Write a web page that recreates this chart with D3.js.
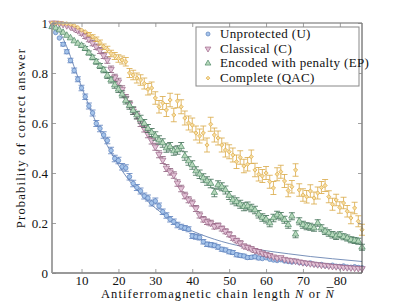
<!DOCTYPE html>
<html><head><meta charset="utf-8">
<script src="https://cdn.jsdelivr.net/npm/d3@7"></script>
<style>body{margin:0;background:#fff}svg{display:block}</style>
</head><body>
<svg id="c" width="399" height="306"></svg>
<script>
const N = d3.range(2, 87);
const unprotected = [
0.985,0.962,0.94,0.915,0.885,0.85,0.81,0.775,0.74,0.705,
0.668,0.64,0.598,0.578,0.552,0.53,0.49,0.458,0.45,0.425,
0.42,0.385,0.358,0.342,0.328,0.308,0.3,0.28,0.288,0.268,
0.245,0.23,0.215,0.205,0.192,0.185,0.18,0.175,0.148,0.145,
0.142,0.125,0.115,0.113,0.11,0.104,0.095,0.092,0.085,0.082,
0.073,0.07,0.068,0.062,0.063,0.065,0.06,0.058,0.061,0.055,
0.052,0.05,0.053,0.048,0.046,0.044,0.047,0.042,0.04,0.038,
0.04,0.035,0.033,0.034,0.03,0.029,0.031,0.027,0.026,0.028,
0.024,0.023,0.025,0.022,0.021];
const unprotectedErr = [
.004,.005,.006,.007,.008,.009,.01,.01,.011,.011,
.012,.012,.012,.013,.013,.013,.013,.013,.013,.013,
.013,.013,.013,.012,.012,.012,.012,.012,.012,.012,
.011,.011,.011,.011,.011,.01,.01,.01,.01,.01,
.01,.009,.009,.009,.009,.009,.008,.008,.008,.008,
.008,.007,.007,.007,.007,.007,.007,.006,.006,.006,
.006,.006,.006,.006,.005,.005,.005,.005,.005,.005,
.005,.005,.005,.005,.004,.004,.004,.004,.004,.004,
.004,.004,.004,.004,.004];
const classical = [
1.0,1.0,0.998,0.995,0.99,0.985,0.978,0.97,0.96,0.948,
0.935,0.92,0.905,0.89,0.87,0.852,0.815,0.782,0.765,0.735,
0.7,0.675,0.648,0.63,0.6,0.578,0.555,0.53,0.505,0.475,
0.452,0.42,0.405,0.392,0.36,0.338,0.31,0.293,0.28,0.258,
0.232,0.215,0.205,0.2,0.187,0.19,0.178,0.167,0.155,0.14,
0.13,0.12,0.108,0.103,0.097,0.09,0.086,0.08,0.074,0.07,
0.065,0.06,0.062,0.055,0.052,0.05,0.048,0.045,0.042,0.04,
0.038,0.036,0.034,0.032,0.031,0.029,0.027,0.026,0.025,0.023,
0.022,0.021,0.02,0.019,0.018];
const classicalErr = [
.002,.002,.003,.004,.005,.006,.007,.008,.009,.01,
.01,.011,.011,.012,.012,.013,.013,.013,.014,.014,
.014,.014,.014,.014,.014,.014,.014,.014,.014,.014,
.014,.014,.013,.013,.013,.013,.013,.012,.012,.012,
.012,.011,.011,.011,.011,.01,.01,.01,.01,.009,
.009,.009,.008,.008,.008,.008,.007,.007,.007,.007,
.006,.006,.006,.006,.006,.005,.005,.005,.005,.005,
.005,.004,.004,.004,.004,.004,.004,.004,.004,.004,
.003,.003,.003,.003,.003];
const encoded = [
0.985,0.98,0.972,0.962,0.95,0.94,0.928,0.918,0.91,0.898,
0.88,0.862,0.845,0.828,0.812,0.79,0.772,0.752,0.735,0.715,
0.69,0.67,0.65,0.632,0.615,0.598,0.578,0.562,0.548,0.532,
0.52,0.5,0.505,0.488,0.492,0.505,0.468,0.448,0.432,0.408,
0.395,0.38,0.368,0.358,0.322,0.352,0.345,0.332,0.31,0.292,
0.285,0.275,0.265,0.268,0.26,0.252,0.235,0.222,0.215,0.2,
0.22,0.232,0.227,0.213,0.193,0.227,0.155,0.207,0.193,0.187,
0.185,0.18,0.2,0.18,0.167,0.16,0.153,0.147,0.153,0.145,
0.14,0.133,0.13,0.127,0.103];
const encodedErr = [
.003,.003,.004,.004,.005,.005,.006,.006,.007,.008,
.008,.009,.01,.01,.011,.012,.012,.013,.013,.014,
.014,.015,.015,.015,.016,.016,.016,.016,.017,.017,
.017,.017,.017,.017,.017,.017,.017,.017,.017,.017,
.017,.017,.017,.017,.017,.017,.016,.016,.016,.016,
.016,.016,.016,.016,.015,.015,.015,.015,.015,.015,
.015,.015,.015,.014,.014,.014,.014,.014,.014,.014,
.014,.013,.013,.013,.013,.013,.013,.013,.012,.012,
.012,.012,.012,.012,.012];
const complete = [
1.0,1.0,1.0,0.998,0.997,0.995,0.99,0.982,0.972,0.965,
0.955,0.945,0.935,0.922,0.905,0.895,0.878,0.868,0.858,0.852,
0.845,0.8,0.792,0.78,0.772,0.758,0.735,0.74,0.7,0.665,
0.68,0.652,0.692,0.632,0.688,0.665,0.62,0.6,0.592,0.56,
0.548,0.56,0.512,0.595,0.552,0.54,0.512,0.492,0.485,0.472,
0.445,0.462,0.428,0.435,0.465,0.412,0.395,0.388,0.4,0.365,
0.34,0.395,0.405,0.368,0.33,0.345,0.412,0.332,0.312,0.305,
0.328,0.3,0.32,0.342,0.35,0.305,0.275,0.292,0.262,0.28,
0.247,0.22,0.26,0.207,0.173];
const completeErr = [
.001,.001,.001,.002,.002,.003,.003,.004,.005,.006,
.007,.008,.009,.01,.011,.012,.013,.014,.015,.016,
.017,.018,.019,.02,.021,.022,.023,.024,.025,.025,
.026,.026,.027,.027,.027,.028,.028,.028,.028,.028,
.028,.028,.028,.028,.028,.028,.028,.028,.028,.028,
.027,.027,.027,.027,.027,.027,.027,.026,.026,.026,
.026,.026,.026,.026,.025,.025,.025,.025,.025,.025,
.025,.024,.024,.024,.024,.024,.024,.023,.023,.023,
.023,.023,.023,.022,.022];
const fitN = [2,4,6,8,10,12,14,16,18,20,22,24,26,28,30,32,34,36,38,40,44,48,52,56,60,66,72,78,86];
const fitU = [0.99,0.965,0.905,0.825,0.745,0.67,0.6,0.538,0.482,0.432,0.388,0.35,0.316,0.286,0.26,0.237,0.216,0.198,0.182,0.168,0.145,0.126,0.111,0.099,0.089,0.077,0.066,0.057,0.046];
const xTicks = [10,20,30,40,50,60,70,80];
const yTicks = [0,0.2,0.4,0.6,0.8,1];
const yTickLabels = ["0","0.2","0.4","0.6","0.8","1"];
const seriesNames = ["Unprotected (U)","Classical (C)","Encoded with penalty (EP)","Complete (QAC)"];

const styles = [
  {fill:"#a6c4ea", stroke:"#5a7fbc", err:"#5a7fbc", sym:"circle"},
  {fill:"#e2c2d6", stroke:"#9c6688", err:"#8a5a78", sym:"down"},
  {fill:"#b6d8bb", stroke:"#4e8664", err:"#3d6a52", sym:"up"},
  {fill:"#f8dea0", stroke:"#dcab4a", err:"#d9a845", sym:"diamond"}
];
const data = [
  {v:unprotected, e:unprotectedErr},
  {v:classical, e:classicalErr},
  {v:encoded, e:encodedErr},
  {v:complete, e:completeErr}
];

const FONT = '"Liberation Serif"';
const svg = d3.select("#c");
const x = d3.scaleLinear().domain([2,86]).range([52,362]);
const y = d3.scaleLinear().domain([0,1]).range([273,23]);

function symPath(kind, s){
  if(kind==="circle") return d3.symbol(d3.symbolCircle, 16*s)();
  if(kind==="up") return d3.symbol(d3.symbolTriangle, 18*s)();
  if(kind==="down") return d3.symbol(d3.symbolTriangle, 18*s)();
  return d3.symbol(d3.symbolSquare, 9*s)();
}
function symTransform(kind, px, py){
  if(kind==="down") return `translate(${px},${py}) rotate(180)`;
  if(kind==="diamond") return `translate(${px},${py}) rotate(45)`;
  return `translate(${px},${py})`;
}

svg.append("path")
  .attr("d", d3.line().x((d,i)=>x(fitN[i])).y(d=>y(d)).curve(d3.curveMonotoneX)(fitU))
  .attr("fill","none").attr("stroke","#6a85b2").attr("stroke-width",0.9);

const plot = svg.append("g");
data.forEach((s, k) => {
  const st = styles[k];
  const g = plot.append("g");
  const pts = N.map((n,i)=>({n, v:s.v[i], e:(s.e[i] ?? 0.01)})).filter(d=>d.v!==undefined);
  g.selectAll("line.eb").data(pts).join("line")
    .attr("x1",d=>x(d.n)).attr("x2",d=>x(d.n))
    .attr("y1",d=>y(d.v - d.e)).attr("y2",d=>y(Math.min(1.0, d.v + d.e)))
    .attr("stroke",st.err).attr("stroke-width",0.8);
  ["lo","hi"].forEach(side=>{
    g.selectAll("line.c"+side).data(pts.filter(d=>d.e>0.006)).join("line")
      .attr("x1",d=>x(d.n)-3).attr("x2",d=>x(d.n)+3)
      .attr("y1",d=>y(side==="lo"? d.v-d.e : d.v+d.e))
      .attr("y2",d=>y(side==="lo"? d.v-d.e : d.v+d.e))
      .attr("stroke",st.err).attr("stroke-width",0.8);
  });
  g.selectAll("path.m").data(pts).join("path")
    .attr("d", symPath(st.sym, 1))
    .attr("transform", d=>symTransform(st.sym, x(d.n), y(d.v)))
    .attr("fill", st.fill).attr("stroke", st.stroke).attr("stroke-width",0.7);
});

const fr = svg.append("g");
fr.append("line").attr("x1",52).attr("x2",362).attr("y1",23).attr("y2",23).attr("stroke","#999").attr("stroke-width",1.5);
fr.append("line").attr("x1",52).attr("x2",362).attr("y1",273).attr("y2",273).attr("stroke","#999").attr("stroke-width",1.8);
fr.append("line").attr("x1",52).attr("x2",52).attr("y1",23).attr("y2",273).attr("stroke","#999").attr("stroke-width",1.8);
fr.append("line").attr("x1",362).attr("x2",362).attr("y1",23).attr("y2",273).attr("stroke","#444").attr("stroke-width",1);

const xb = svg.append("g").attr("transform","translate(0,273)")
  .call(d3.axisBottom(x).tickValues(xTicks).tickSize(-4).tickPadding(3));
const xt = svg.append("g").attr("transform","translate(0,23)")
  .call(d3.axisTop(x).tickValues(xTicks).tickSize(-4).tickFormat(""));
const yl = svg.append("g").attr("transform","translate(52,0)")
  .call(d3.axisLeft(y).tickValues(yTicks).tickSize(-4).tickPadding(4).tickFormat((d,i)=>yTickLabels[i]));
const yr = svg.append("g").attr("transform","translate(362,0)")
  .call(d3.axisRight(y).tickValues(yTicks).tickSize(-4).tickFormat(""));
[xb,xt,yl,yr].forEach(a=>{
  a.select(".domain").remove();
  a.selectAll(".tick line").attr("stroke","#888").attr("stroke-width",0.8);
  a.selectAll("text").style("font-family",FONT).style("font-size","13px").attr("fill","#111");
});

const xl = svg.append("text").attr("x",218).attr("y",298).attr("text-anchor","middle")
  .style("font-family",FONT).style("font-size","12.5px").style("letter-spacing","1.1px").attr("fill","#111");
xl.append("tspan").text("Antiferromagnetic chain length ");
xl.append("tspan").style("font-style","italic").text("N");
xl.append("tspan").text(" or ");
xl.append("tspan").style("font-style","italic").text("N");
{
  const el = xl.node();
  const n = el.getNumberOfChars();
  const ext = el.getExtentOfChar(n-1);
  svg.append("line").attr("x1",ext.x+1).attr("x2",ext.x+ext.width-1.5)
    .attr("y1",ext.y+0.5).attr("y2",ext.y+0.5).attr("stroke","#111").attr("stroke-width",0.7);
}

svg.append("text").attr("transform","translate(25,138) rotate(-90)").attr("text-anchor","middle")
  .style("font-family",FONT).style("font-size","12.5px").style("letter-spacing","1.2px").attr("fill","#111")
  .text("Probability of correct answer");

const lg = svg.append("g");
lg.append("rect").attr("x",196).attr("y",27).attr("width",163).attr("height",59)
  .attr("fill","#fff").attr("stroke","#888").attr("stroke-width",1);
seriesNames.forEach((name,k)=>{
  const st = styles[k];
  const cy = 34 + k*14.7;
  lg.append("path").attr("d", symPath(st.sym, 0.8))
    .attr("transform", symTransform(st.sym, 208, cy))
    .attr("fill", st.fill).attr("stroke", st.stroke).attr("stroke-width",0.7);
  lg.append("text").attr("x",220).attr("y",cy+4).style("font-family",FONT).style("font-size","13px")
    .style("letter-spacing","0.35px").attr("fill","#111").text(name);
});
</script>
</body></html>
